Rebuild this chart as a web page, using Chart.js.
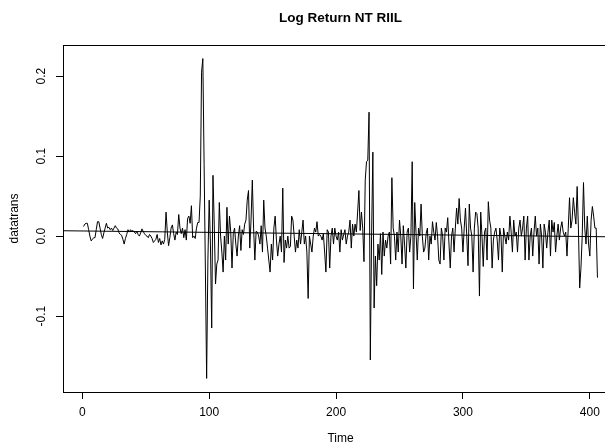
<!DOCTYPE html>
<html>
<head>
<meta charset="utf-8">
<script src="https://cdn.jsdelivr.net/npm/chart.js@4.4.1/dist/chart.umd.min.js"></script>
<style>
  html, body { margin: 0; padding: 0; background: #fff; overflow: hidden; }
  #wrap { width: 622px; height: 445px; }
</style>
</head>
<body>
<div id="wrap"><canvas id="chart" width="622" height="445"></canvas></div>
<script>
// log returns (t = 1..406)
var logReturn = [
  0.012, 0.015, 0.016, 0.016, 0.008, 0.000, -0.006, -0.004, -0.002, -0.002,
  0.008, 0.018, 0.018, 0.010, 0.002, -0.003, 0.004, 0.010, 0.016, 0.010,
  0.011, 0.008, 0.010, 0.007, 0.010, 0.013, 0.010, 0.009, 0.004, 0.002,
  0.001, -0.004, -0.010, -0.003, 0.002, 0.008, 0.005, 0.008, 0.006, 0.007,
  0.005, 0.003, 0.006, 0.002, 0.000, 0.004, 0.009, 0.006, 0.003, 0.001,
  0.000, -0.002, 0.002, 0.000, -0.003, -0.008, -0.006, -0.004, 0.002, -0.008,
  -0.003, -0.011, -0.006, -0.010, -0.004, 0.030, 0.005, -0.012, -0.002, 0.010,
  0.014, 0.003, -0.005, 0.005, 0.002, 0.027, 0.010, 0.003, 0.010, -0.002,
  0.008, -0.005, 0.022, 0.025, 0.016, 0.038, -0.002, 0.000, -0.003, 0.010,
  0.017, 0.017, 0.050, 0.205, 0.222, 0.090, -0.040, -0.178, -0.030, 0.045,
  -0.010, -0.115, 0.076, 0.015, -0.060, -0.035, -0.030, 0.042, 0.000, -0.020,
  -0.045, 0.000, -0.030, 0.036, -0.010, 0.025, 0.005, -0.040, 0.003, 0.010,
  -0.010, -0.025, 0.000, 0.013, -0.018, 0.008, 0.002, 0.015, 0.020, 0.045,
  0.057, -0.015, 0.020, 0.070, 0.010, -0.030, 0.006, 0.005, 0.000, -0.010,
  0.013, -0.020, 0.045, 0.010, 0.000, -0.015, -0.030, -0.045, -0.010, -0.030,
  0.010, 0.025, -0.005, -0.025, -0.010, 0.000, -0.020, 0.060, -0.033, -0.005,
  -0.015, 0.000, -0.015, -0.013, 0.025, 0.020, 0.000, -0.020, -0.005, -0.015,
  0.008, -0.010, 0.005, 0.020, -0.010, 0.000, -0.020, -0.078, 0.000, -0.010,
  -0.020, 0.000, 0.010, 0.005, 0.018, 0.000, 0.002, 0.000, -0.005, 0.003,
  -0.020, -0.045, 0.008, 0.005, -0.040, 0.000, 0.010, -0.010, 0.010, 0.000,
  -0.005, 0.005, -0.020, 0.008, -0.005, 0.002, 0.008, -0.010, 0.000, 0.005,
  0.020, -0.015, 0.015, 0.000, 0.015, 0.005, 0.030, 0.057, 0.007, 0.030,
  0.010, -0.032, 0.070, 0.093, 0.095, 0.155, -0.155, 0.000, 0.105, -0.090,
  -0.025, -0.062, -0.010, -0.030, 0.003, -0.048, 0.005, -0.025, -0.005, -0.015,
  0.000, 0.005, -0.035, 0.073, 0.010, 0.000, -0.030, 0.005, -0.020, 0.020,
  0.000, -0.035, 0.013, -0.010, -0.040, 0.005, 0.010, -0.020, 0.000, 0.093,
  -0.066, 0.042, 0.005, -0.030, 0.010, 0.000, 0.040, 0.000, -0.020, -0.015,
  0.003, 0.010, -0.030, 0.000, -0.010, 0.018, 0.005, -0.005, 0.017, 0.000,
  -0.030, -0.035, 0.010, 0.000, -0.030, 0.010, 0.005, 0.023, -0.010, -0.040,
  0.000, 0.010, -0.020, 0.010, 0.035, 0.015, 0.047, 0.020, 0.010, -0.020,
  0.010, 0.035, 0.000, -0.037, 0.040, 0.010, 0.000, -0.045, 0.010, 0.030,
  0.028, 0.010, -0.075, 0.030, 0.000, -0.038, 0.005, 0.010, -0.030, 0.043,
  0.020, 0.010, -0.040, -0.005, 0.005, 0.010, -0.005, -0.030, 0.010, 0.000,
  -0.045, 0.010, 0.000, -0.010, 0.005, -0.005, 0.025, 0.005, -0.020, 0.020,
  0.000, 0.005, -0.020, 0.010, 0.020, 0.000, 0.010, 0.025, -0.030, 0.010,
  0.025, -0.030, 0.000, 0.010, -0.025, 0.005, 0.025, 0.000, 0.010, -0.035,
  0.015, 0.000, -0.040, 0.015, 0.005, -0.015, 0.005, 0.020, -0.025, 0.020,
  0.005, 0.017, -0.020, 0.000, 0.015, -0.005, 0.010, 0.018, 0.005, 0.000,
  0.005, -0.025, 0.010, 0.048, 0.010, 0.020, 0.048, 0.030, 0.015, 0.062,
  0.010, -0.065, -0.040, 0.000, 0.067, 0.010, -0.010, 0.025, -0.010, -0.025,
  0.020, 0.037, 0.025, 0.010, 0.010, -0.052
];

// fitted trend line (abline)
var trendIntercept = 0.0064;
var trendSlope = -0.0000175;

var xTicks = [0, 100, 200, 300, 400];
var yTicks = [-0.1, 0.0, 0.1, 0.2];
var yTickLabels = ['-0.1', '0.0', '0.1', '0.2'];

var chartTitle = 'Log Return NT RIIL';
var xTitle = 'Time';
var yTitle = 'datatrans';

var xMin = -15.2, xMax = 422.2;
var yMin = -0.195, yMax = 0.239;

var seriesPoints = [];
for (let i = 0; i < logReturn.length; i++) {
    seriesPoints.push({ x: i + 1, y: logReturn[i] });
}
var trendPoints = [
    { x: xMin, y: trendIntercept + trendSlope * xMin },
    { x: xMax, y: trendIntercept + trendSlope * xMax }
];

const FONT = '"Liberation Sans", Arial, Helvetica, sans-serif';

// box, title, rotated y labels, axis titles like R base graphics
const rDecor = {
    id: 'rDecor',
    afterDraw(chart) {
        const ctx = chart.ctx;
        const a = chart.chartArea;
        const ys = chart.scales.y;
        const midX = (a.left + a.right) / 2;
        ctx.save();
        ctx.strokeStyle = '#000';
        ctx.lineWidth = 1;
        ctx.strokeRect(Math.round(a.left) + 0.5, Math.round(a.top) + 0.5,
            Math.round(a.right - a.left), Math.round(a.bottom - a.top));

        ctx.fillStyle = '#000';
        ctx.textAlign = 'center';
        ctx.textBaseline = 'middle';
        ctx.font = 'bold 13.5px ' + FONT;
        ctx.fillText(chartTitle, midX, 18);

        ctx.font = '12px ' + FONT;
        ctx.fillText(xTitle, midX, 439);

        ctx.save();
        ctx.translate(15, (a.top + a.bottom) / 2);
        ctx.rotate(-Math.PI / 2);
        ctx.fillText(yTitle, 0, 0);
        ctx.restore();

        for (let i = 0; i < yTicks.length; i++) {
            const py = ys.getPixelForValue(yTicks[i]);
            ctx.save();
            ctx.translate(42, py);
            ctx.rotate(-Math.PI / 2);
            ctx.fillText(yTickLabels[i], 0, 0);
            ctx.restore();
        }
        ctx.restore();
    }
};

var ctx = document.getElementById('chart').getContext('2d');
var chart = new Chart(ctx, {
    type: 'line',
    data: {
        datasets: [{
            data: seriesPoints,
            borderColor: '#000',
            borderWidth: 1,
            pointRadius: 0,
            tension: 0
        }, {
            data: trendPoints,
            borderColor: '#000',
            borderWidth: 1,
            pointRadius: 0
        }]
    },
    options: {
        responsive: false,
        animation: false,
        devicePixelRatio: 1,
        layout: { padding: { top: 45, right: 4, left: 0, bottom: 0 } },
        plugins: {
            legend: { display: false },
            title: { display: false },
            tooltip: { enabled: false }
        },
        scales: {
            x: {
                type: 'linear',
                min: xMin,
                max: xMax,
                afterBuildTicks: function (s) { s.ticks = xTicks.map(v => ({ value: v })); },
                afterFit: function (s) { s.height = 53; },
                grid: { drawOnChartArea: false, drawTicks: true, tickLength: 7, color: '#000' },
                border: { display: true, color: '#000' },
                ticks: {
                    color: '#000',
                    font: { family: FONT, size: 12 },
                    padding: 6,
                    maxRotation: 0,
                    callback: v => String(v)
                }
            },
            y: {
                type: 'linear',
                min: yMin,
                max: yMax,
                afterBuildTicks: function (s) { s.ticks = yTicks.map(v => ({ value: v })); },
                afterFit: function (s) { s.width = 63; },
                grid: { drawOnChartArea: false, drawTicks: true, tickLength: 7, color: '#000' },
                border: { display: true, color: '#000' },
                ticks: { display: false }
            }
        }
    },
    plugins: [rDecor]
});
</script>
</body>
</html>
